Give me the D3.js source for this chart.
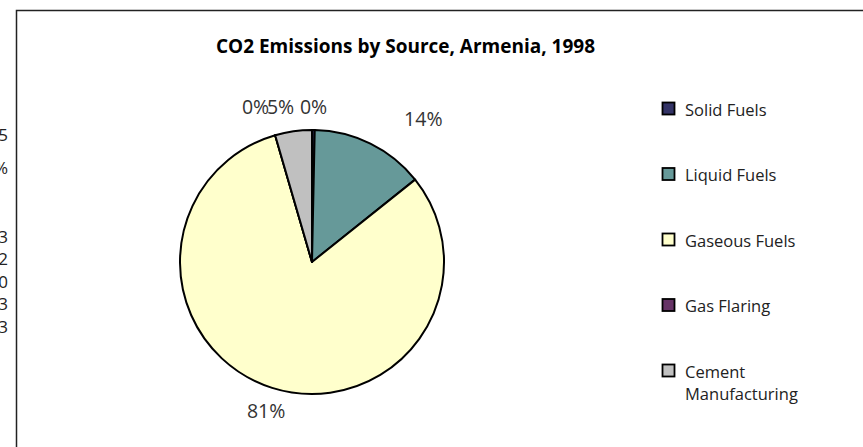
<!DOCTYPE html>
<html>
<head>
<meta charset="utf-8">
<script src="https://cdn.jsdelivr.net/npm/d3@7"></script>
<style>
  html, body { margin: 0; padding: 0; background: #fff; }
  svg { display: block; }
  text { font-family: "Open Sans", "Noto Sans", sans-serif; fill: #222; }
</style>
</head>
<body>
<svg id="chart" width="863" height="447"></svg>
<script>
// ---- data ----
const title = "CO2 Emissions by Source, Armenia, 1998";
const categories = ["Solid Fuels", "Liquid Fuels", "Gaseous Fuels", "Gas Flaring", "Cement Manufacturing"];
const legendLines = [["Solid Fuels"], ["Liquid Fuels"], ["Gaseous Fuels"], ["Gas Flaring"], ["Cement", "Manufacturing"]];
const values = [3, 127, 740, 0, 41]; // thousand metric tons of carbon
const colors = ["#333366", "#669999", "#FFFFCC", "#663366", "#C0C0C0"];
// clipped leftovers from a neighbouring cell at the left edge
const edgeText = ["5", "%", "3", "2", "0", "3", "3"];

// ---- layout ----
const svg = d3.select("#chart");
const cx = 312, cy = 262, R = 132;

// frame
svg.append("rect")
  .attr("x", 16.5).attr("y", 10.5)
  .attr("width", 900).attr("height", 500)
  .attr("fill", "none").attr("stroke", "#222").attr("stroke-width", 1.5);

// left edge fragments
const edgeYs = [141, 174, 243, 265, 288, 310, 333];
svg.append("g").selectAll("text").data(edgeText).join("text")
  .attr("x", 8).attr("y", (d, i) => edgeYs[i])
  .attr("text-anchor", "end")
  .attr("font-size", 17)
  .text(d => d);

// title
svg.append("text")
  .attr("x", 405.5).attr("y", 53)
  .attr("text-anchor", "middle")
  .attr("font-size", 19).attr("font-weight", "bold")
  .style("fill", "#000")
  .text(title);

// pie
const total = d3.sum(values);
const pie = d3.pie().sort(null).value(d => d);
const arcs = pie(values);
const arc = d3.arc().innerRadius(0).outerRadius(R);
const g = svg.append("g").attr("transform", `translate(${cx},${cy})`);
g.selectAll("path").data(arcs).join("path")
  .attr("d", arc)
  .attr("fill", (d, i) => colors[i])
  .attr("stroke", "#000").attr("stroke-width", 2)
  .attr("stroke-linejoin", "round");

// labels
const labelArc = d3.arc().innerRadius(R + 20).outerRadius(R + 20);
const nudges = [[0, -4], [44, -7], [0, 4], [-14, -10], [-10, -5]];
const fmt = v => Math.round(v / total * 100) + "%";
g.selectAll("text.lbl").data(arcs).join("text")
  .attr("class", "lbl")
  .attr("font-size", 19.5)
  .attr("text-anchor", "middle")
  .attr("dominant-baseline", "central")
  .style("fill", "#333")
  .attr("x", (d, i) => labelArc.centroid(d)[0] + nudges[i][0])
  .attr("y", (d, i) => labelArc.centroid(d)[1] + nudges[i][1])
  .text(d => fmt(d.value));

// legend
const legY = d3.scalePoint().domain(categories).range([109, 371]);
const lg = svg.append("g");
categories.forEach((c, i) => {
  const y = legY(c);
  lg.append("rect")
    .attr("x", 662.5).attr("y", y - 6.5)
    .attr("width", 12).attr("height", 12)
    .attr("fill", colors[i]).attr("stroke", "#000").attr("stroke-width", 1.8);
  legendLines[i].forEach((line, j) => {
    lg.append("text")
      .attr("x", 685).attr("y", y + j * 22)
      .attr("dominant-baseline", "central")
      .attr("font-size", 16.5)
      .text(line);
  });
});
</script>
</body>
</html>
